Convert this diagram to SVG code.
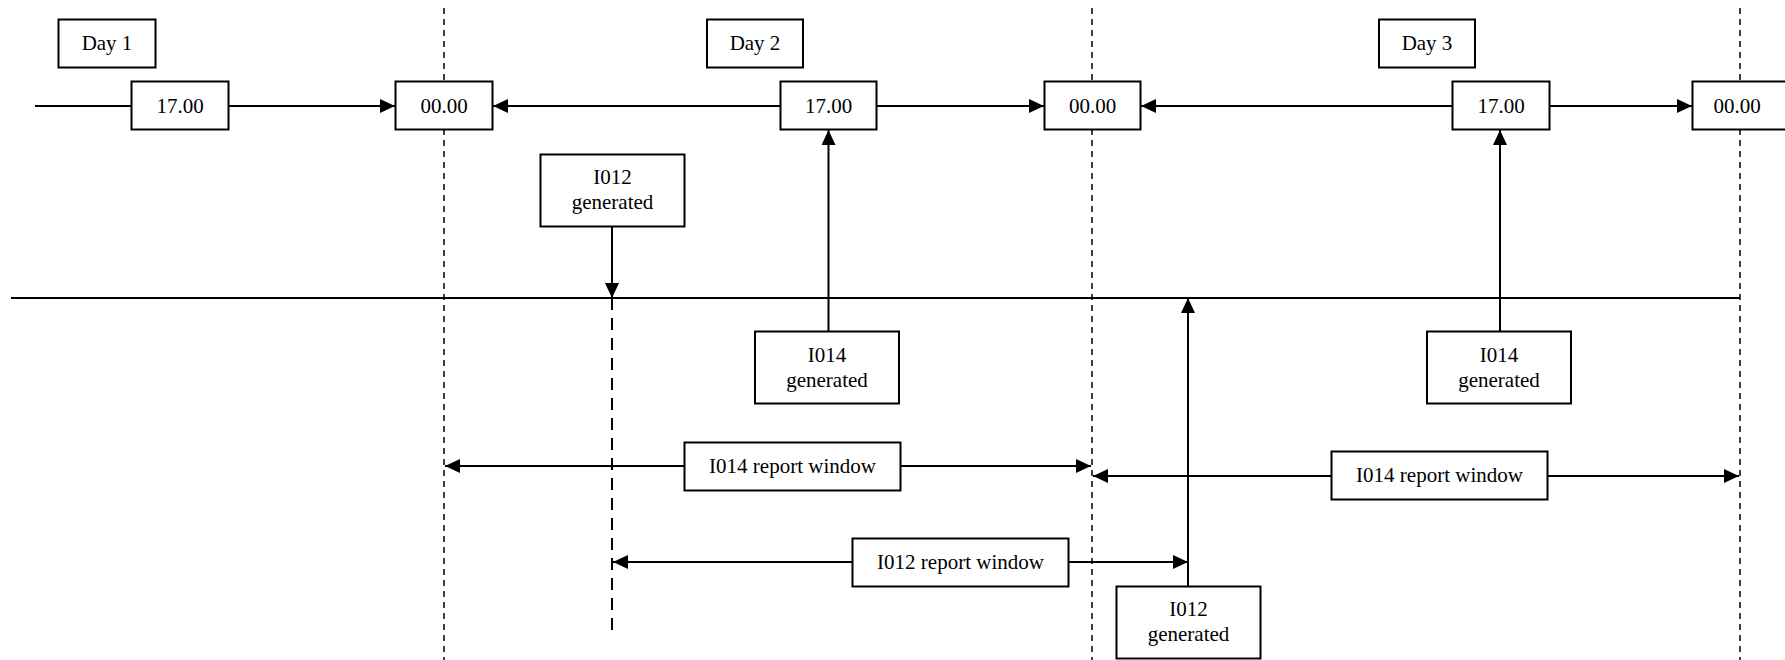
<svg xmlns="http://www.w3.org/2000/svg" width="1785" height="660" viewBox="0 0 1785 660">
<style>
.box{fill:#fff;stroke:#000;stroke-width:2}
.t{font-family:"Liberation Serif","Times New Roman",serif;font-size:21px;fill:#000;text-anchor:middle}
.ln{stroke:#000;stroke-width:2;fill:none}
.arr{stroke:#000;stroke-width:2;fill:none;marker-end:url(#ah)}
.mid{stroke:#000;stroke-width:1.5;fill:none;stroke-dasharray:6 5}
.ld{stroke:#000;stroke-width:2;fill:none;stroke-dasharray:12 8}
</style>
<defs>
<marker id="ah" markerWidth="15" markerHeight="14" refX="15" refY="7" orient="auto" markerUnits="userSpaceOnUse">
<path d="M0,0 L15,7 L0,14 Z" fill="#000"/>
</marker>
</defs>
<rect width="1785" height="660" fill="#fff"/>
<g id="dividers">
<line class="mid" x1="444" y1="8" x2="444" y2="660"/>
<line class="mid" x1="1092" y1="8" x2="1092" y2="660"/>
<line class="mid" x1="1740" y1="8" x2="1740" y2="660"/>
</g>
<g id="connectors">
<line class="ln" x1="35" y1="106" x2="131" y2="106"/>
<line class="arr" x1="228" y1="106" x2="395" y2="106"/>
<line class="arr" x1="780" y1="106" x2="493" y2="106"/>
<line class="arr" x1="876" y1="106" x2="1044" y2="106"/>
<line class="arr" x1="1452" y1="106" x2="1141" y2="106"/>
<line class="arr" x1="1549" y1="106" x2="1692" y2="106"/>
<line class="ln" x1="11" y1="298" x2="1740" y2="298"/>
<line class="arr" x1="612" y1="226" x2="612" y2="298"/>
<line class="ld" x1="612" y1="298" x2="612" y2="635"/>
<line class="arr" x1="828.5" y1="331" x2="828.5" y2="130"/>
<line class="arr" x1="1500" y1="331" x2="1500" y2="130"/>
<line class="arr" x1="1188" y1="586" x2="1188" y2="298"/>
<line class="arr" x1="684" y1="466" x2="445" y2="466"/>
<line class="arr" x1="900" y1="466" x2="1091" y2="466"/>
<line class="arr" x1="1331" y1="476" x2="1093" y2="476"/>
<line class="arr" x1="1547" y1="476" x2="1739" y2="476"/>
<line class="arr" x1="852" y1="562" x2="613" y2="562"/>
<line class="arr" x1="1069" y1="562" x2="1188" y2="562"/>
</g>
<g id="day1"><rect class="box" x="58.5" y="19.5" width="97" height="48"/><text class="t" x="107" y="50">Day 1</text></g>
<g id="day2"><rect class="box" x="707" y="19.5" width="96" height="48"/><text class="t" x="755" y="50">Day 2</text></g>
<g id="day3"><rect class="box" x="1379" y="19.5" width="96" height="48"/><text class="t" x="1427" y="50">Day 3</text></g>
<g id="t1700a"><rect class="box" x="131.5" y="81.5" width="97" height="48"/><text class="t" x="180" y="113">17.00</text></g>
<g id="t0000a"><rect class="box" x="395.5" y="81.5" width="97" height="48"/><text class="t" x="444" y="113">00.00</text></g>
<g id="t1700b"><rect class="box" x="780.5" y="81.5" width="96" height="48"/><text class="t" x="828.5" y="113">17.00</text></g>
<g id="t0000b"><rect class="box" x="1044.5" y="81.5" width="96" height="48"/><text class="t" x="1092.5" y="113">00.00</text></g>
<g id="t1700c"><rect class="box" x="1452.5" y="81.5" width="97" height="48"/><text class="t" x="1501" y="113">17.00</text></g>
<g id="t0000c"><rect class="box" x="1692.5" y="81.5" width="97" height="48"/><text class="t" x="1737" y="113">00.00</text></g>
<g id="i012gen1"><rect class="box" x="540.5" y="154.5" width="144" height="72"/><text class="t" x="612.5" y="184">I012</text><text class="t" x="612.5" y="209">generated</text></g>
<g id="i014gen1"><rect class="box" x="755" y="331.5" width="144" height="72"/><text class="t" x="827" y="362">I014</text><text class="t" x="827" y="387">generated</text></g>
<g id="i014gen2"><rect class="box" x="1427" y="331.5" width="144" height="72"/><text class="t" x="1499" y="362">I014</text><text class="t" x="1499" y="387">generated</text></g>
<g id="i012gen2"><rect class="box" x="1116.5" y="586.5" width="144" height="72"/><text class="t" x="1188.5" y="616">I012</text><text class="t" x="1188.5" y="641">generated</text></g>
<g id="i014win1"><rect class="box" x="684.5" y="442.5" width="216" height="48"/><text class="t" x="792.5" y="473">I014 report window</text></g>
<g id="i014win2"><rect class="box" x="1331.5" y="451.5" width="216" height="48"/><text class="t" x="1439.5" y="482">I014 report window</text></g>
<g id="i012win"><rect class="box" x="852.5" y="538.5" width="216" height="48"/><text class="t" x="960.5" y="569">I012 report window</text></g>
</svg>
